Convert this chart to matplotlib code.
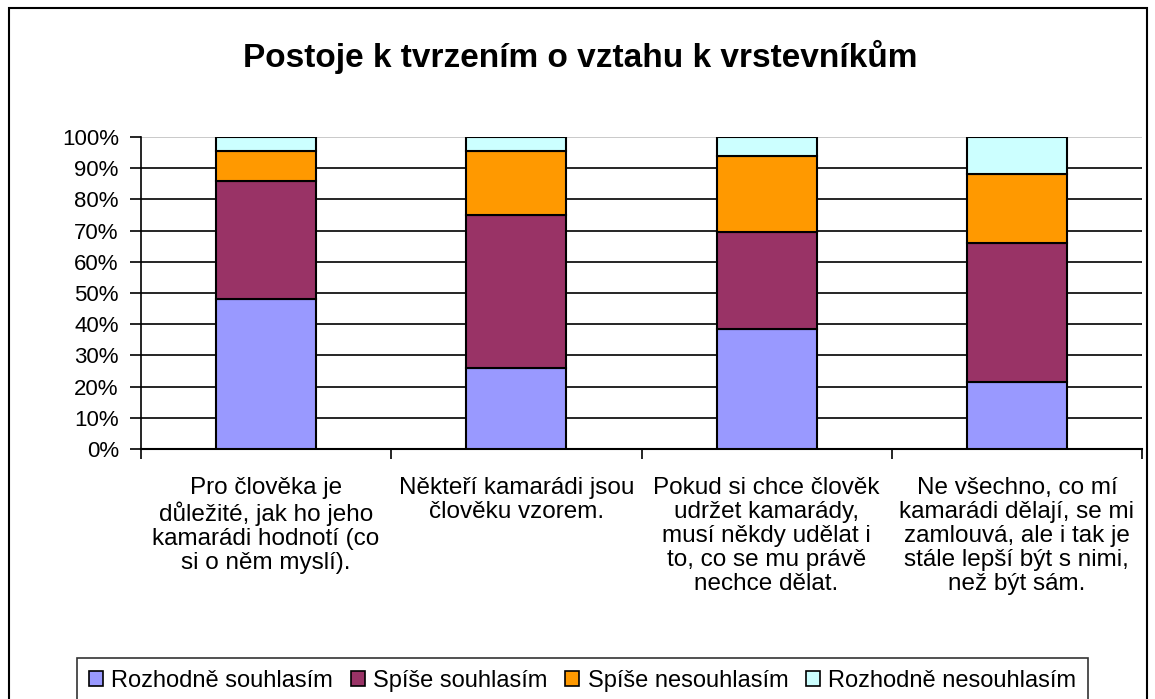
import numpy as np
import matplotlib.pyplot as plt
from matplotlib.patches import Rectangle
from matplotlib.ticker import FixedLocator, FuncFormatter

plt.rcParams['font.family'] = ['Liberation Sans', 'DejaVu Sans']

categories = [
    "Pro člověka je\ndůležité, jak ho jeho\nkamarádi hodnotí (co\nsi o něm myslí).",
    "Někteří kamarádi jsou\nčlověku vzorem.",
    "Pokud si chce člověk\nudržet kamarády,\nmusí někdy udělat i\nto, co se mu právě\nnechce dělat.",
    "Ne všechno, co mí\nkamarádi dělají, se mi\nzamlouvá, ale i tak je\nstále lepší být s nimi,\nnež být sám.",
]
series_names = ["Rozhodně souhlasím", "Spíše souhlasím", "Spíše nesouhlasím", "Rozhodně nesouhlasím"]
rozhodne_souhlasim = [48, 26, 38.5, 21.5]
spise_souhlasim = [38, 49, 31, 44.5]
spise_nesouhlasim = [9.5, 20.5, 24.5, 22]
rozhodne_nesouhlasim = [4.5, 4.5, 6, 12]
colors = ["#9999FF", "#993366", "#FF9900", "#CCFFFF"]

fig = plt.figure(figsize=(11.55, 6.99), dpi=100)
fig.patches.append(Rectangle((9/1155, -0.05), 1138/1155, 1.05 - 8/699, transform=fig.transFigure,
                             fill=False, edgecolor='black', linewidth=1.5))
ax = fig.add_axes([141/1155, 1 - 449/699, 1001/1155, 312/699])

x = np.arange(len(categories))
bottom = np.zeros(len(categories))
for name, vals, c in zip(series_names,
                         [rozhodne_souhlasim, spise_souhlasim, spise_nesouhlasim, rozhodne_nesouhlasim],
                         colors):
    ax.bar(x, vals, 0.4, bottom=bottom, color=c, edgecolor='black', linewidth=1.5, label=name, zorder=3)
    bottom += np.array(vals)

ax.set_xlim(-0.5, len(categories) - 0.5)
ax.set_ylim(0, 100)
ax.set_yticks(np.arange(0, 101, 10))
ax.yaxis.set_major_formatter(FuncFormatter(lambda v, p: f"{v:.0f}%"))
ax.tick_params(axis='y', labelsize=16, length=8, width=1.2, pad=8)
for v in range(10, 100, 10):
    ax.axhline(v, color='black', linewidth=1.2, zorder=1)
ax.axhline(100, color='#c0c0c0', linewidth=1.2, zorder=1)

ax.set_xticks(x)
ax.set_xticklabels(categories, fontsize=17.5, linespacing=1.12, va='top')
ax.tick_params(axis='x', which='major', length=0, pad=20)
ax.xaxis.set_minor_locator(FixedLocator(np.arange(-0.5, len(categories), 1.0)))
ax.tick_params(axis='x', which='minor', length=7, width=1.2, direction='out')

for s in ['top', 'right']:
    ax.spines[s].set_visible(False)
ax.spines['left'].set_linewidth(1.2)
ax.spines['bottom'].set_linewidth(1.5)

fig.text(0.502, 1 - 57/699, "Postoje k tvrzením o vztahu k vrstevníkům",
         ha='center', va='center', fontsize=24, fontweight='bold')

leg = fig.legend(loc='upper left', bbox_to_anchor=(77/1155, 1 - 658/699), ncol=4, fontsize=17,
                 frameon=True, fancybox=False, edgecolor='black', handlelength=0.6, handleheight=0.6,
                 handletextpad=0.35, columnspacing=0.75, borderpad=0.5, borderaxespad=0)
leg.get_frame().set_linewidth(1.2)
for h in leg.legend_handles:
    h.set_linewidth(1.2)

fig.savefig("out.png", dpi=100)
